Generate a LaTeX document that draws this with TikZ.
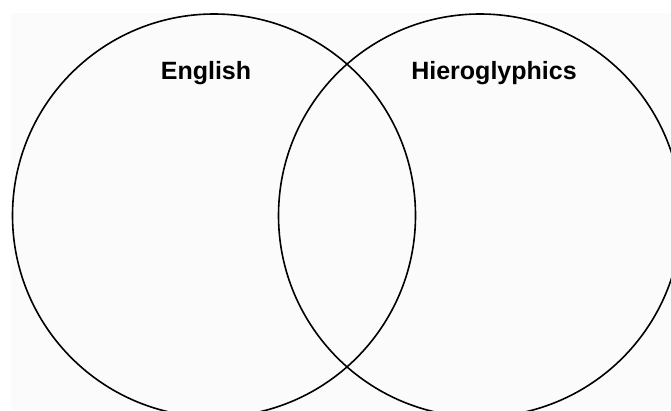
\documentclass[tikz,border=0pt]{standalone}
\usepackage{fontspec}
\setmainfont{Liberation Sans}
\definecolor{paper}{HTML}{FBFBFB}
\usepackage{tikz}
\usetikzlibrary{positioning}

\begin{document}
\begin{tikzpicture}[x=1pt,y=-1pt]
  \useasboundingbox (0,0) rectangle (671,410);
  \clip (0,0) rectangle (671,410);
  \fill[paper] (11,13) rectangle (671,410);

  % Left: English
  \node[draw,circle,line width=1.6pt,minimum size=403pt,inner sep=0pt] (english) at (214,215.5) {};
  \node[font=\fontsize{25}{30}\selectfont\bfseries] (englishlabel) at (206,73) {English};

  % Right: Hieroglyphics
  \node[draw,circle,line width=1.6pt,minimum size=403pt,inner sep=0pt] (hiero) at (480,215.5) {};
  \node[font=\fontsize{25}{30}\selectfont\bfseries] (hierolabel) at (494,73) {Hieroglyphics};
\end{tikzpicture}
\end{document}
